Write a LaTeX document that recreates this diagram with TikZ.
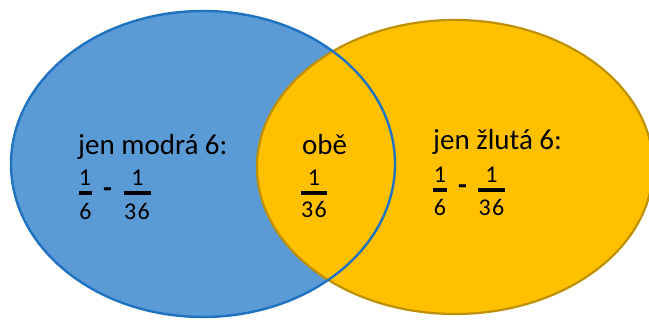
\documentclass[tikz,border=0pt]{standalone}
\usepackage{fontspec}
\setmainfont{Carlito}
\definecolor{bluefill}{HTML}{5B9BD5}
\definecolor{blueline}{HTML}{1F72C0}
\definecolor{yelfill}{HTML}{FFC000}
\definecolor{yelline}{HTML}{BF9000}
\begin{document}
\begin{tikzpicture}[x=1pt,y=1pt,
  lbl/.style={inner sep=0pt,anchor=base west,font=\fontsize{29}{34}\selectfont},
  dig/.style={inner sep=0pt,anchor=base,font=\fontsize{24}{28}\selectfont},
  fbar/.style={line width=3.2pt},
  minus/.style={inner sep=0pt,font=\bfseries\fontsize{29}{34}\selectfont}]
\useasboundingbox (0,0) rectangle (649,320);
\begin{scope}
\clip (0,0) rectangle (649,320);
\fill[bluefill] (203,156) ellipse [x radius=192, y radius=153];
\filldraw[fill=yelfill,draw=yelline,line width=2.2pt] (455,153) ellipse [x radius=198, y radius=147];
\draw[blueline,line width=2.4pt] (203,156) ellipse [x radius=192, y radius=153];
\end{scope}
% labels
\node[lbl] (tb) at (78,165) {jen modrá 6:};
\node[lbl] (tm) at (302,165) {obě};
\node[lbl] (ty) at (433,170) {jen žlutá 6:};
% left fractions
\node[dig] (bn1) at (85,134) {1};
\node[dig] (bd1) at (85.5,100) {6};
\draw[fbar] (79,127) -- (92,127);
\node[minus] (bm) at (107.5,127) {-};
\node[dig] (bn2) at (137.5,134) {1};
\node[dig] (bd2) at (137,100) {3\kern1.5pt6};
\draw[fbar] (124,127) -- (151,127);
% middle fraction
\node[dig] (mn) at (314,134) {1};
\node[dig] (md) at (314,102) {3\kern1.5pt6};
\draw[fbar] (301,127) -- (327,127);
% right fractions
\node[dig] (yn1) at (440,137) {1};
\node[dig] (yd1) at (440,104) {6};
\draw[fbar] (433,130) -- (447,130);
\node[minus] (ym) at (462.5,130) {-};
\node[dig] (yn2) at (491.5,137) {1};
\node[dig] (yd2) at (491.5,104) {3\kern1.5pt6};
\draw[fbar] (478,130) -- (505,130);
\end{tikzpicture}
\end{document}
